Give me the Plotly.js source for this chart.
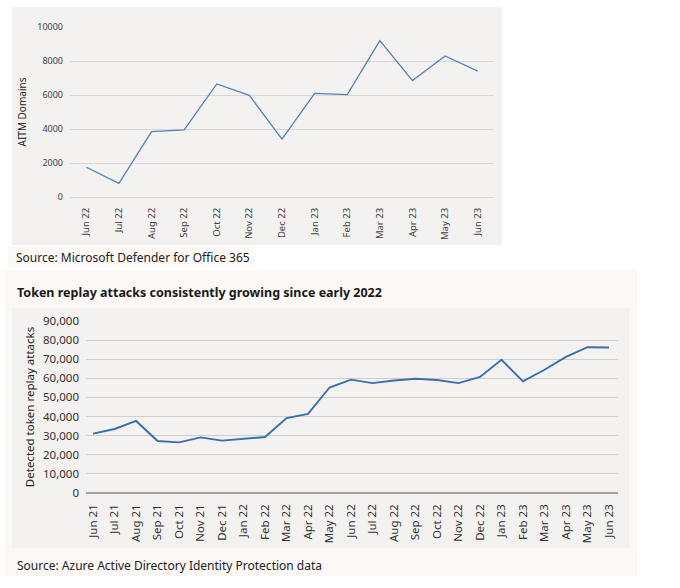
<!DOCTYPE html>
<html>
<head>
<meta charset="utf-8">
<script src="https://cdn.plot.ly/plotly-3.0.1.min.js"></script>
<style>
  html, body { margin: 0; padding: 0; background: #fff; }
  #chart { width: 680px; height: 588px; }
</style>
</head>
<body>
<div id="chart"></div>
<script>
// AiTM domains, monthly
const aitmMonths = ['Jun 22', 'Jul 22', 'Aug 22', 'Sep 22', 'Oct 22', 'Nov 22', 'Dec 22',
  'Jan 23', 'Feb 23', 'Mar 23', 'Apr 23', 'May 23', 'Jun 23'];
const aitmDomains = [1750, 800, 3850, 3950, 6650, 5980, 3400, 6100, 6020, 9200, 6850, 8300, 7400];

// token replay attacks, monthly
const replayMonths = ['Jun 21', 'Jul 21', 'Aug 21', 'Sep 21', 'Oct 21', 'Nov 21', 'Dec 21',
  'Jan 22', 'Feb 22', 'Mar 22', 'Apr 22', 'May 22', 'Jun 22', 'Jul 22', 'Aug 22', 'Sep 22',
  'Oct 22', 'Nov 22', 'Dec 22', 'Jan 23', 'Feb 23', 'Mar 23', 'Apr 23', 'May 23', 'Jun 23'];
const replayAttacks = [31100, 33500, 37700, 27200, 26500, 29100, 27400, 28300, 29300, 39200,
  41400, 55200, 59300, 57500, 58900, 59800, 59100, 57500, 60700, 69700, 58400, 64500, 71200,
  76300, 76100];

const W = 680, H = 588;
const px = x => x / W;
const py = y => 1 - y / H;
const FONT = 'Noto Sans, Open Sans, sans-serif';

const rect = (x0, y0, x1, y1, color) => ({
  type: 'rect', xref: 'paper', yref: 'paper', layer: 'below',
  x0: px(x0), x1: px(x1), y0: py(y1), y1: py(y0),
  fillcolor: color, line: { width: 0 },
});

const data = [
  {
    type: 'scatter', mode: 'lines',
    x: aitmMonths, y: aitmDomains,
    xaxis: 'x', yaxis: 'y',
    line: { color: '#5a7fb3', width: 1.3 },
    hoverinfo: 'skip',
  },
  {
    type: 'scatter', mode: 'lines',
    x: replayMonths, y: replayAttacks,
    xaxis: 'x2', yaxis: 'y2',
    line: { color: '#3b6eab', width: 1.9 },
    hoverinfo: 'skip',
  },
];

const layout = {
  width: W, height: H,
  margin: { l: 0, r: 0, t: 0, b: 0 },
  paper_bgcolor: '#ffffff',
  plot_bgcolor: 'rgba(0,0,0,0)',
  showlegend: false,
  font: { family: FONT, color: '#333' },
  shapes: [
    rect(12, 7, 502, 245, '#f3f2f1'),
    rect(8, 246, 256, 268, '#fbf8f6'),
    rect(5, 270, 637, 576, '#fbf8f6'),
    rect(12, 308, 629, 548, '#f3f2f1'),
  ],
  xaxis: {
    domain: [px(70), px(494)],
    anchor: 'y',
    type: 'category',
    range: [-0.5, 12.5],
    tickangle: -90,
    tickfont: { size: 9.5, color: '#404040', family: FONT },
    showgrid: false, zeroline: false, showline: false,
    ticks: '',
    ticklabelstandoff: 8,
  },
  yaxis: {
    domain: [py(197), py(27)],
    anchor: 'x',
    range: [0, 10000],
    tickvals: [0, 2000, 4000, 6000, 8000, 10000],
    tickformat: 'd',
    tickfont: { size: 9, color: '#404040', family: FONT },
    gridcolor: '#d9d9d9', gridwidth: 1,
    zeroline: true, zerolinecolor: '#d9d9d9', zerolinewidth: 1,
    showline: false, ticks: '',
    ticklabelstandoff: 6,
    title: { text: 'AITM Domains', font: { size: 10, color: '#222', family: FONT }, standoff: 8 },
  },
  xaxis2: {
    domain: [px(86), px(618)],
    anchor: 'y2',
    type: 'category',
    range: [-0.33, 24.42],
    tickangle: -90,
    tickfont: { size: 11.5, color: '#333', family: FONT },
    showgrid: false, zeroline: false, showline: false,
    ticks: '',
    ticklabelstandoff: 8,
  },
  yaxis2: {
    domain: [py(493), py(321)],
    anchor: 'x2',
    range: [0, 90000],
    dtick: 10000,
    tickformat: ',d',
    tickfont: { size: 11.5, color: '#333', family: FONT },
    gridcolor: '#cfcfcf', gridwidth: 1.2,
    zeroline: true, zerolinecolor: '#a0a0a0', zerolinewidth: 1.5,
    showline: false, ticks: '',
    ticklabelstandoff: 6,
    title: { text: 'Detected token replay attacks', font: { size: 11.5, color: '#222', family: FONT }, standoff: 5 },
  },
  annotations: [
    {
      xref: 'paper', yref: 'paper', x: px(14), y: py(257),
      xanchor: 'left', yanchor: 'middle', showarrow: false,
      text: 'Source: Microsoft Defender for Office 365',
      font: { size: 12, color: '#222', family: FONT },
    },
    {
      xref: 'paper', yref: 'paper', x: px(15), y: py(292),
      xanchor: 'left', yanchor: 'middle', showarrow: false,
      text: '<b>Token replay attacks consistently growing since early 2022</b>',
      font: { size: 12.5, color: '#1a1a1a', family: FONT },
    },
    {
      xref: 'paper', yref: 'paper', x: px(15), y: py(565),
      xanchor: 'left', yanchor: 'middle', showarrow: false,
      text: 'Source: Azure Active Directory Identity Protection data',
      font: { size: 12, color: '#222', family: FONT },
    },
  ],
};

Plotly.newPlot('chart', data, layout, { staticPlot: true, displayModeBar: false });
</script>
</body>
</html>
